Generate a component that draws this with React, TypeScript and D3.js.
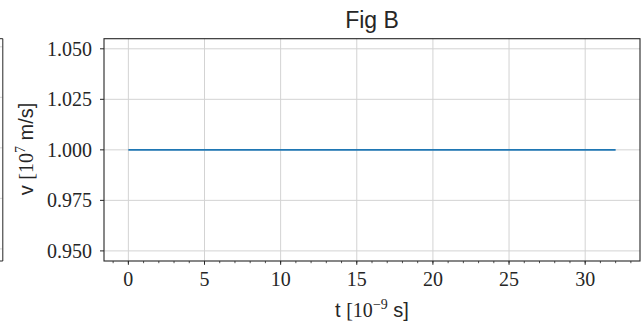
import React from "react";
import * as d3 from "d3";

const title = "Fig B";
const tValues = [0, 4, 8, 12, 16, 20, 24, 28, 32];
const vValues = [1.0, 1.0, 1.0, 1.0, 1.0, 1.0, 1.0, 1.0, 1.0];
const xTicks = [0, 5, 10, 15, 20, 25, 30];
const xMinorTicks = d3.range(-1, 34, 1);
const yTicks = [0.95, 0.975, 1.0, 1.025, 1.05];
const leftPanelGrid = [0.95, 0.975, 1.0, 1.025, 1.05];

export default function App() {
  const W = 643, H = 324;
  const left = 104, right = 640, top = 38.7, bottom = 261;
  const x = d3.scaleLinear().domain([-1.6, 33.6]).range([left, right]);
  const y = d3.scaleLinear().domain([0.945, 1.055]).range([bottom, top]);
  const line = d3.line<number>().x((_, i) => x(tValues[i])).y((d) => y(d));
  const serif = "'Liberation Serif', 'DejaVu Serif', serif";
  const sans = "'Liberation Sans', 'DejaVu Sans', sans-serif";
  const ink = "#262626";
  const grid = "#d3d3d3";

  return (
    <svg width={W} height={H} style={{ position: "absolute", left: 0, top: 0, background: "#fff" }}>
      {/* partial left panel */}
      {leftPanelGrid.map((v) => (
        <line key={"lp" + v} x1={0} x2={2.5} y1={y(v) - 2} y2={y(v) - 2} stroke={grid} strokeWidth={1} />
      ))}
      <polyline points={`0,${top} 2.8,${top} 2.8,${bottom} 0,${bottom}`} fill="none" stroke={ink} strokeWidth={1} />

      {/* grid */}
      {xTicks.map((t) => (
        <line key={"gx" + t} x1={x(t)} x2={x(t)} y1={top} y2={bottom} stroke={grid} strokeWidth={1} />
      ))}
      {yTicks.map((v) => (
        <line key={"gy" + v} x1={left} x2={right} y1={y(v)} y2={y(v)} stroke={grid} strokeWidth={1} />
      ))}

      {/* data */}
      <path d={line(vValues) || ""} fill="none" stroke="#1f77b4" strokeWidth={1.6} />

      {/* spines */}
      <rect x={left} y={top} width={right - left} height={bottom - top} fill="none" stroke={ink} strokeWidth={1.1} />

      {/* x ticks */}
      {xMinorTicks.map((t) => (
        <line key={"mx" + t} x1={x(t)} x2={x(t)} y1={bottom} y2={bottom + 2.2} stroke={ink} strokeWidth={0.8} />
      ))}
      {xTicks.map((t) => (
        <g key={"tx" + t}>
          <line x1={x(t)} x2={x(t)} y1={bottom} y2={bottom + 3.8} stroke={ink} strokeWidth={1} />
          <text x={x(t)} y={286} textAnchor="middle" fontFamily={serif} fontSize={20} fill={ink}>
            {d3.format("d")(t)}
          </text>
        </g>
      ))}

      {/* y ticks */}
      {yTicks.map((v) => (
        <g key={"ty" + v}>
          <line x1={left - 4} x2={left} y1={y(v)} y2={y(v)} stroke={ink} strokeWidth={1} />
          <text x={92} y={y(v) + 7} textAnchor="end" fontFamily={serif} fontSize={20} fill={ink}>
            {d3.format(".3f")(v)}
          </text>
        </g>
      ))}

      {/* title */}
      <text x={372} y={28} textAnchor="middle" fontFamily={sans} fontSize={23} fill={ink}>
        {title}
      </text>

      {/* x label */}
      <text x={372} y={317} textAnchor="middle" fontSize={20} fill={ink}>
        <tspan fontFamily={sans}>t </tspan>
        <tspan fontFamily={serif}>[10</tspan>
        <tspan fontFamily={serif} fontSize={14} dy={-8}>−9</tspan>
        <tspan fontFamily={sans} dy={8}> s]</tspan>
      </text>

      {/* y label */}
      <text transform="translate(33,149) rotate(-90)" textAnchor="middle" fontSize={20} fill={ink}>
        <tspan fontFamily={sans}>v </tspan>
        <tspan fontFamily={serif}>[10</tspan>
        <tspan fontFamily={serif} fontSize={14} dy={-8}>7</tspan>
        <tspan fontFamily={sans} dy={8}> m/s]</tspan>
      </text>
    </svg>
  );
}
